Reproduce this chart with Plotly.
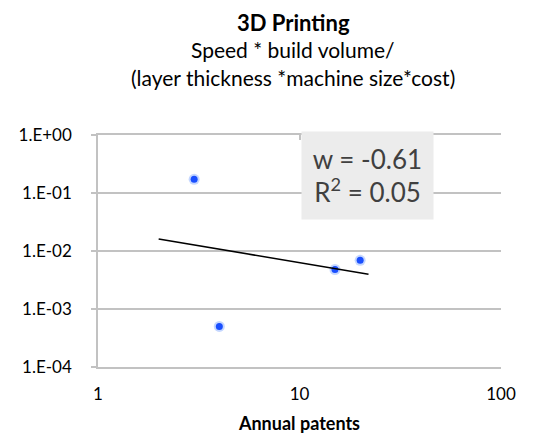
import numpy as np
import plotly.graph_objects as go

# Data
patents = [3.0, 4.0, 15.0, 20.0]
metric = [0.172, 0.0005, 0.0048, 0.0069]
trend_x = [2.0, 22.0]
y_tickvals = [1, 0.1, 0.01, 0.001, 0.0001]
y_ticktext = ["1.E+00", "1.E-01", "1.E-02", "1.E-03", "1.E-04"]
x_tickvals = [1, 10, 100]
x_ticktext = ["1", "10", "100"]
fit_label = "w = -0.61<br>R<sup>2</sup> = 0.05"

# Power-law fit (log-log least squares)
lx = np.log10(patents)
ly = np.log10(metric)
w, b = np.polyfit(lx, ly, 1)
trend_y = [10 ** (b + w * np.log10(v)) for v in trend_x]

FONT = "Lato, 'Open Sans', sans-serif"

# page body has an 8px margin; plot area in reference: x 98..501, y 135..367
OFF = 8
PL, PR, PT, PB = 98, 501, 135, 367


def px(xp):
    return (xp - PL) / (PR - PL)


def py(yp):
    return (PB - yp) / (PB - PT)


fig = go.Figure()
fig.add_trace(go.Scatter(x=patents, y=metric, mode="markers",
                         marker=dict(size=11, color="rgba(90,140,255,0.35)"),
                         hoverinfo="skip", showlegend=False))
fig.add_trace(go.Scatter(x=patents, y=metric, mode="markers",
                         marker=dict(size=7, color="#1a4fff"),
                         showlegend=False))
fig.add_trace(go.Scatter(x=trend_x, y=trend_y, mode="lines",
                         line=dict(color="black", width=1.5),
                         showlegend=False))
fig.add_trace(go.Scatter(x=trend_x, y=trend_y, mode="lines", xaxis="x2",
                         line=dict(width=0), hoverinfo="skip", showlegend=False))

GRAY = "#c2c2c2"
fig.update_layout(
    width=537 - OFF, height=445 - OFF,
    margin=dict(l=PL - OFF, r=537 - PR, t=PT - OFF, b=445 - PB),
    paper_bgcolor="white", plot_bgcolor="white",
    font=dict(family=FONT, color="black"),
    xaxis=dict(type="log", range=[0, 2], tickvals=x_tickvals, ticktext=x_ticktext,
               showgrid=False, zeroline=False, showline=True, linecolor=GRAY,
               linewidth=1.5, ticks="",
               ticklabelstandoff=11, tickfont=dict(size=17, family=FONT),
               title=dict(text="<b>Annual patents</b>", font=dict(size=18, family=FONT),
                          standoff=14)),
    xaxis2=dict(type="log", range=[0, 2], overlaying="x", side="top",
                tickvals=x_tickvals, showticklabels=False, ticks="inside",
                ticklen=5, tickcolor=GRAY, tickwidth=1.5,
                showgrid=False, zeroline=False, showline=True, linecolor=GRAY,
                linewidth=1.5),
    yaxis=dict(type="log", range=[-4, 0], tickvals=y_tickvals, ticktext=y_ticktext,
               showgrid=True, gridcolor=GRAY, gridwidth=1.5,
               showline=True, linecolor=GRAY, linewidth=1.5,
               ticks="outside", ticklen=5, tickcolor=GRAY, tickwidth=1.5,
               zeroline=False, tickfont=dict(size=17, family=FONT), ticklabelstandoff=16),
    annotations=[
        dict(text="<b>3D Printing</b>", xref="paper", yref="paper",
             x=px(293), y=py(22), xanchor="center", yanchor="middle",
             showarrow=False, font=dict(size=22)),
        dict(text="Speed * build volume/", xref="paper", yref="paper",
             x=px(293), y=py(50), xanchor="center", yanchor="middle",
             showarrow=False, font=dict(size=21)),
        dict(text="(layer thickness *machine size*cost)", xref="paper", yref="paper",
             x=px(293), y=py(77), xanchor="center", yanchor="middle",
             showarrow=False, font=dict(size=21)),
        dict(text=fit_label, xref="paper", yref="paper",
             x=px(367.5), y=py(175.5), xanchor="center", yanchor="middle",
             showarrow=False, font=dict(size=26, color="#404040"), bgcolor="#ececec",
             width=129, height=85, align="center"),
    ],
)

fig.write_html("out.html")
